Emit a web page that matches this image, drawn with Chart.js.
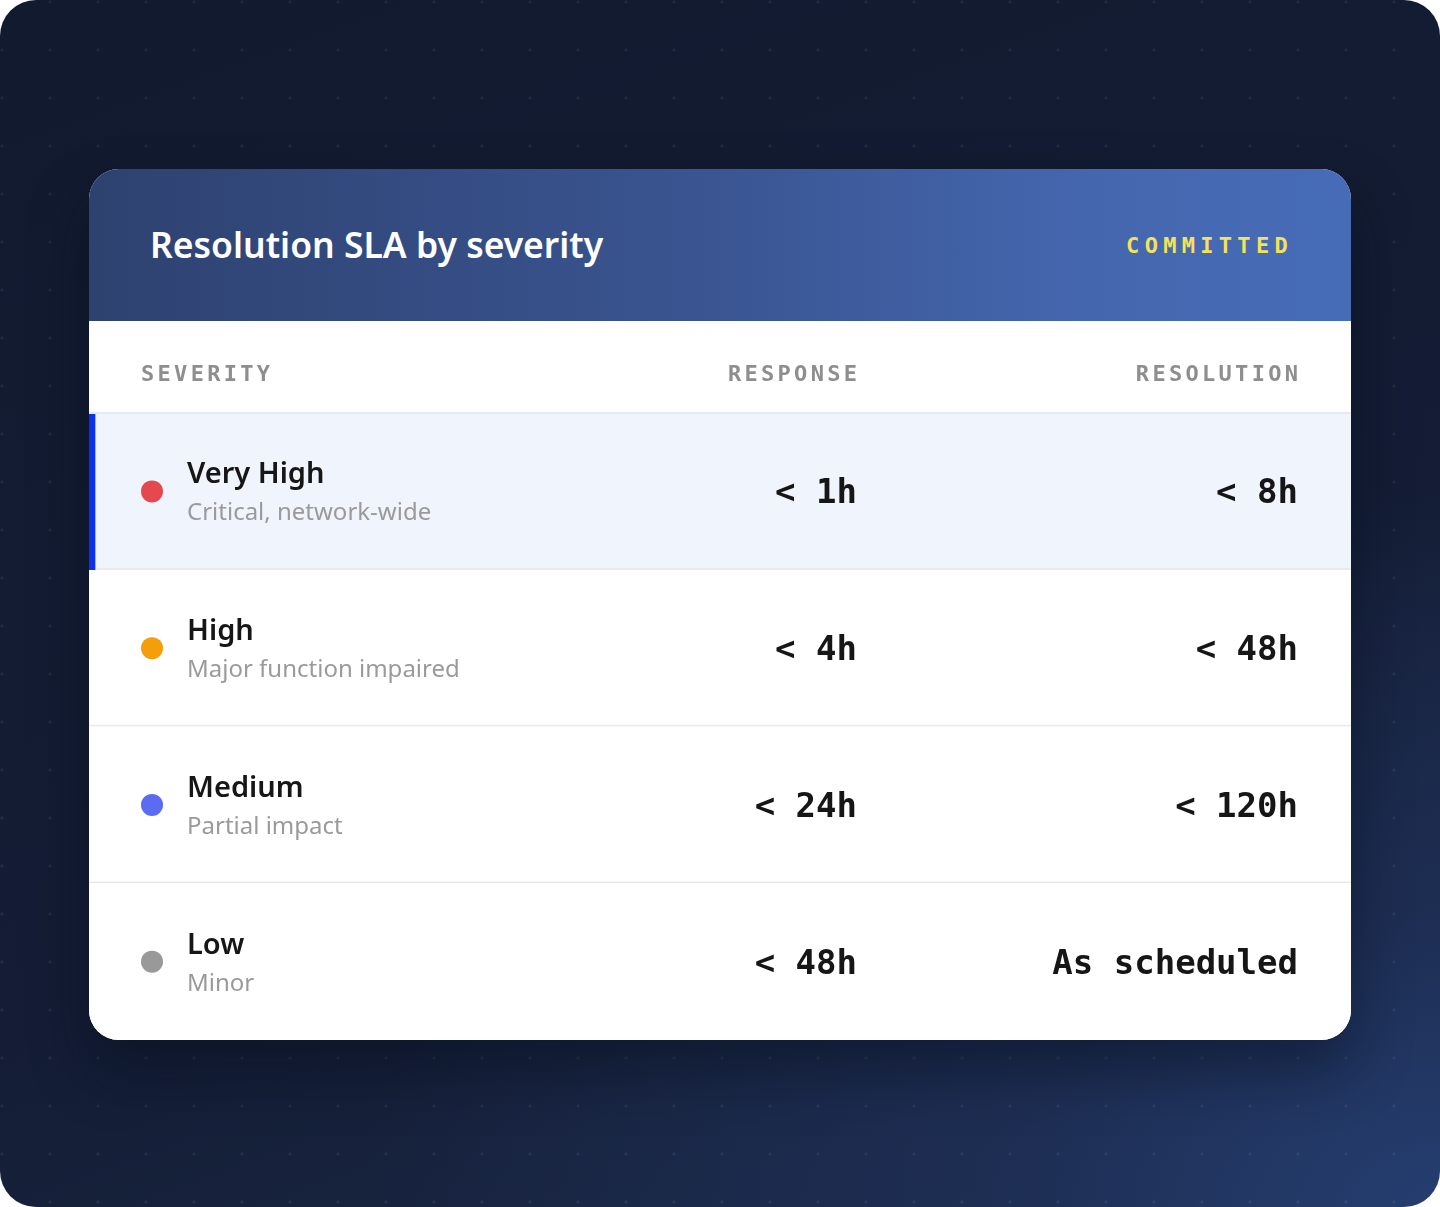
<!DOCTYPE html>
<html>
<head>
<meta charset="utf-8">
<script src="https://cdn.jsdelivr.net/npm/chart.js@4.4.1/dist/chart.umd.min.js"></script>
<style>
  html, body { margin: 0; padding: 0; background: #ffffff; }
  .page {
    position: relative;
    width: 1440px;
    height: 1207px;
    border-radius: 36px;
    overflow: hidden;
    background-color: #121a2f;
    background-image:
      radial-gradient(circle, rgba(255,255,255,0.06) 1.3px, transparent 2px),
      radial-gradient(ellipse 75% 60% at 100% 100%, #253e70 0%, rgba(31,48,88,0.8) 40%, rgba(18,26,47,0) 100%),
      linear-gradient(160deg, #111a2e 0%, #141d35 60%, #1a2846 100%);
    background-size: 48px 48px, 100% 100%, 100% 100%;
    background-position: -22px -22px, 0 0, 0 0;
  }
  .card {
    position: absolute;
    left: 89px;
    top: 169px;
    width: 1262px;
    height: 871px;
    border-radius: 30px;
    overflow: hidden;
    background: #ffffff;
    box-shadow: 0 30px 60px rgba(5, 10, 25, 0.45);
  }
  .head {
    height: 152px;
    display: flex;
    align-items: center;
    justify-content: space-between;
    padding: 0 58px 0 61px;
    background: linear-gradient(90deg, #2e4270 0%, #3a5592 50%, #4466ae 78%, #476cb7 100%);
  }
  .title {
    font-family: "Noto Sans", sans-serif;
    font-weight: 600;
    font-size: 35.5px;
    color: #ffffff;
    margin-top: -3px;
  }
  .badge {
    font-family: "DejaVu Sans Mono", monospace;
    font-weight: 700;
    font-size: 22px;
    letter-spacing: 5.3px;
    color: #f6e15a;
  }
  .body { position: relative; width: 1262px; height: 719px; }
</style>
</head>
<body>
<div class="page">
  <div class="card">
    <div class="head">
      <div class="title">Resolution SLA by severity</div>
      <div class="badge">COMMITTED</div>
    </div>
    <div class="body"><canvas id="tablaSla"></canvas></div>
  </div>
</div>
<script>
// datos de la tabla
const severities = ['Very High', 'High', 'Medium', 'Low'];
const descriptions = ['Critical, network-wide', 'Major function impaired', 'Partial impact', 'Minor'];
const responseTimes = ['< 1h', '< 4h', '< 24h', '< 48h'];
const resolutionTimes = ['< 8h', '< 48h', '< 120h', 'As scheduled'];
const severityColors = ['#e5484d', '#f59e0b', '#5b6cf2', '#999999'];
const columnLabels = ['SEVERITY', 'RESPONSE', 'RESOLUTION'];
const highlightedRow = 0;

const tableWidth = 1262;
const dotX = 63;
const textX = 98;
const responseRight = 768;
const resolutionRight = 1209;

const rowBackground = severities.map((s, i) => i === highlightedRow ? '#f0f4fd' : '#ffffff');
const rowBorders = severities.map((s, i) => ({
    top: 0, left: 0, right: 0,
    bottom: i < severities.length - 1 ? 2 : 0
}));

const tablePlugin = {
    id: 'tablaTexto',
    afterDatasetsDraw(chart) {
        const { ctx, scales: { x, y }, chartArea } = chart;
        ctx.save();

        // encabezados de columna
        ctx.font = '700 22px "DejaVu Sans Mono", monospace';
        ctx.fillStyle = '#8e8e8e';
        ctx.textBaseline = 'alphabetic';
        ctx.letterSpacing = '3.3px';
        const headY = chartArea.top - 32;
        ctx.textAlign = 'left';
        ctx.fillText(columnLabels[0], x.getPixelForValue(52), headY);
        ctx.textAlign = 'right';
        ctx.fillText(columnLabels[1], x.getPixelForValue(responseRight) + 3.3, headY);
        ctx.fillText(columnLabels[2], x.getPixelForValue(resolutionRight) + 3.3, headY);
        ctx.letterSpacing = '0px';

        // linea bajo encabezados
        ctx.fillStyle = '#e7e9ee';
        ctx.fillRect(chartArea.left, chartArea.top - 1, chartArea.width, 2);

        severities.forEach((name, i) => {
            const cy = y.getPixelForValue(i);
            ctx.textAlign = 'left';
            ctx.fillStyle = '#161616';
            ctx.font = '600 29px "Noto Sans", sans-serif';
            ctx.fillText(name, x.getPixelForValue(textX), cy - 8);
            ctx.fillStyle = '#9a9a9a';
            ctx.font = '400 24px "Noto Sans", sans-serif';
            ctx.fillText(descriptions[i], x.getPixelForValue(textX), cy + 29);

            ctx.textAlign = 'right';
            ctx.fillStyle = '#161616';
            ctx.font = '700 34px "DejaVu Sans Mono", monospace';
            ctx.fillText(responseTimes[i], x.getPixelForValue(responseRight), cy + 12);
            ctx.fillText(resolutionTimes[i], x.getPixelForValue(resolutionRight), cy + 12);
        });
        ctx.restore();
    }
};

const canvas = document.getElementById('tablaSla');

const tablaSla = new Chart(canvas.getContext('2d'), {
    type: 'bar',
    data: {
        labels: severities,
        datasets: [
            {
                label: 'Filas',
                data: severities.map(() => [0, tableWidth]),
                backgroundColor: rowBackground,
                borderColor: '#e7e9ee',
                borderWidth: rowBorders,
                borderSkipped: false,
                barPercentage: 1,
                categoryPercentage: 1,
                grouped: false,
                order: 3
            },
            {
                label: 'Seleccion',
                data: severities.map((s, i) => i === highlightedRow ? [0, 6] : null),
                backgroundColor: '#0b30ee',
                barPercentage: 1,
                categoryPercentage: 1,
                grouped: false,
                order: 2
            },
            {
                type: 'scatter',
                label: 'Severidad',
                data: severities.map(s => ({ x: dotX, y: s })),
                backgroundColor: severityColors,
                borderWidth: 0,
                pointRadius: 11,
                pointHoverRadius: 11,
                order: 1
            }
        ]
    },
    options: {
        indexAxis: 'y',
        responsive: true,
        maintainAspectRatio: false,
        animation: false,
        events: [],
        layout: { autoPadding: false, padding: { top: 92, left: 0, right: 0, bottom: 0 } },
        plugins: {
            legend: { display: false },
            tooltip: { enabled: false }
        },
        scales: {
            x: { type: 'linear', min: 0, max: tableWidth, offset: false, display: false },
            y: { type: 'category', offset: true, display: false }
        }
    },
    plugins: [tablePlugin]
});
</script>
</body>
</html>
